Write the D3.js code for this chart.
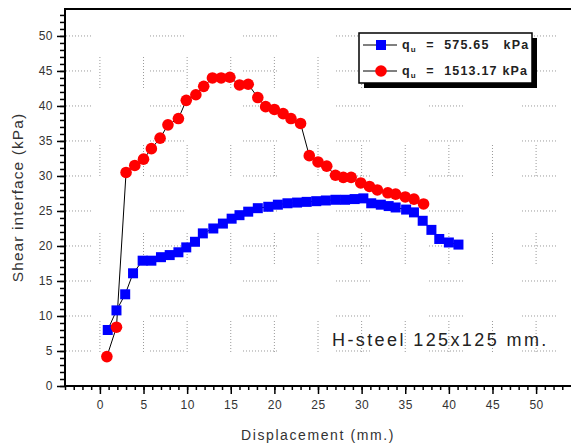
<!DOCTYPE html>
<html lang="en">
<head>
<meta charset="UTF-8">
<title>Shear interface</title>
<script src="https://cdn.jsdelivr.net/npm/d3@7"></script>
<style>
  body { margin: 0; background: #fff; }
  svg { font-family: "Liberation Sans", Arial, sans-serif; }
  .tick text { fill: #333; font-size: 12px; letter-spacing: 0.5px; }
</style>
</head>
<body>
<div id="chart"></div>
<script>
// qu = 575.65 kPa (blue squares)
const blueX = [0.9, 1.9, 2.9, 3.8, 4.9, 5.9, 7.0, 8.0, 9.0, 9.9, 10.9, 11.8, 13.0, 14.1, 15.1, 16.0, 17.0, 18.1, 19.3, 20.4, 21.5, 22.6, 23.7, 24.8, 25.9, 27.0, 28.1, 29.2, 30.2, 31.1, 32.2, 33.1, 33.9, 35.1, 36.0, 37.0, 38.0, 38.9, 40.0, 41.1];
const blueY = [8.0, 10.8, 13.1, 16.1, 17.9, 17.9, 18.4, 18.7, 19.1, 19.8, 20.6, 21.8, 22.5, 23.2, 23.9, 24.4, 24.9, 25.4, 25.6, 25.9, 26.1, 26.2, 26.3, 26.4, 26.5, 26.6, 26.6, 26.7, 26.8, 26.1, 25.9, 25.7, 25.5, 25.2, 24.8, 23.6, 22.3, 21.0, 20.5, 20.2];
// qu = 1513.17 kPa (red circles)
const redX = [0.8, 1.9, 3.0, 4.0, 5.0, 5.9, 6.9, 7.8, 9.0, 9.9, 11.0, 11.9, 12.9, 13.9, 14.9, 16.0, 17.0, 18.1, 19.0, 20.0, 21.0, 21.9, 23.0, 24.0, 25.0, 26.0, 27.0, 27.9, 28.8, 29.9, 30.9, 31.8, 33.0, 33.9, 35.0, 36.0, 37.1];
const redY = [4.2, 8.4, 30.5, 31.5, 32.4, 33.9, 35.4, 37.3, 38.2, 40.8, 41.6, 42.8, 44.0, 44.0, 44.1, 43.0, 43.1, 41.2, 39.9, 39.5, 38.9, 38.2, 37.5, 32.9, 32.0, 31.4, 30.1, 29.8, 29.8, 29.0, 28.5, 28.0, 27.6, 27.4, 27.0, 26.7, 26.0];

const xTicks = [0, 5, 10, 15, 20, 25, 30, 35, 40, 45, 50];
const yTicks = [0, 5, 10, 15, 20, 25, 30, 35, 40, 45, 50];
const legendLabels = [["575.65", "   kPa"], ["1513.17", " kPa"]];
const note = "H-steel 125x125 mm.";

const W = 571, H = 446;
const margin = { top: 9, right: 0, bottom: 60, left: 65 };
const w = W - margin.left - margin.right,
      h = H - margin.top - margin.bottom;

const svg = d3.select('#chart').append('svg')
  .attr('width', W).attr('height', H);
const g = svg.append('g')
  .attr('transform', `translate(${margin.left},${margin.top})`);

const x = d3.scaleLinear().domain([-4, 54]).range([0, w]);
const y = d3.scaleLinear().domain([0, 53.85]).range([h, 0]);

// broken dotted grid
function dots(n, gap) {
  const a = [];
  for (let i = 0; i < n - 1; i++) a.push(1, 2);
  a.push(1, gap);
  return a.join(',');
}
g.selectAll('.hgrid').data(yTicks.filter(d => d > 0)).enter().append('line')
  .attr('x1', 0).attr('x2', w)
  .attr('y1', d => y(d)).attr('y2', d => y(d))
  .attr('stroke', '#9a9a9a').attr('stroke-width', 1)
  .attr('stroke-dasharray', dots(12, 59)).attr('stroke-dashoffset', 8);
g.selectAll('.vgrid').data(xTicks).enter().append('line')
  .attr('x1', d => x(d)).attr('x2', d => x(d))
  .attr('y1', 0).attr('y2', h)
  .attr('stroke', '#9a9a9a').attr('stroke-width', 1)
  .attr('stroke-dasharray', dots(11, 57)).attr('stroke-dashoffset', 40);

// axes
const yMinor = d3.axisLeft(y).tickValues(d3.range(0, 54, 1)).tickSize(5).tickFormat('');
const yMajor = d3.axisLeft(y).tickValues(yTicks).tickSize(8).tickPadding(4);
const xMinor = d3.axisBottom(x).tickValues(d3.range(-4, 54, 1)).tickSize(4).tickFormat('');
const xMajor = d3.axisBottom(x).tickValues(xTicks).tickSize(8).tickPadding(6);

[yMinor, yMajor].forEach(a => {
  const s = g.append('g').call(a);
  s.select('.domain').remove();
  s.selectAll('.tick line').attr('stroke-width', 1.5);
});
[xMinor, xMajor].forEach(a => {
  const s = g.append('g').attr('transform', `translate(0,${h})`).call(a);
  s.select('.domain').remove();
  s.selectAll('.tick line').attr('stroke-width', 1.5);
});
g.append('line').attr('x1', 0).attr('x2', 0).attr('y1', -1).attr('y2', h + 1)
  .attr('stroke', '#000').attr('stroke-width', 2);
g.append('line').attr('x1', 0).attr('x2', w).attr('y1', h).attr('y2', h)
  .attr('stroke', '#000').attr('stroke-width', 2);
g.append('line').attr('x1', 0).attr('x2', w).attr('y1', 0).attr('y2', 0)
  .attr('stroke', '#000').attr('stroke-width', 2);

// titles
svg.append('text')
  .attr('transform', `translate(23,${margin.top + h / 2}) rotate(-90)`)
  .attr('text-anchor', 'middle').attr('fill', '#333').attr('font-size', 15.5)
  .attr('letter-spacing', 1.1)
  .text('Shear interface (kPa)');
svg.append('text')
  .attr('x', 318).attr('y', 440)
  .attr('text-anchor', 'middle').attr('fill', '#333').attr('font-size', 14)
  .attr('letter-spacing', 1.6)
  .text('Displacement (mm.)');

// series
const blue = blueX.map((d, i) => ({ x: d, y: blueY[i] }));
const red = redX.map((d, i) => ({ x: d, y: redY[i] }));
const line = d3.line().x(d => x(d.x)).y(d => y(d.y));

[blue, red].forEach(s => {
  g.append('path').datum(s).attr('d', line)
    .attr('fill', 'none').attr('stroke', '#000').attr('stroke-width', 1);
});
g.selectAll('.sq').data(blue).enter().append('rect')
  .attr('x', d => x(d.x) - 5).attr('y', d => y(d.y) - 5)
  .attr('width', 10).attr('height', 10).attr('fill', '#0000ff');
g.selectAll('.ci').data(red).enter().append('circle')
  .attr('cx', d => x(d.x)).attr('cy', d => y(d.y))
  .attr('r', 5.8).attr('fill', '#ff0000');

// note
svg.append('text')
  .attr('x', 332).attr('y', 346).attr('fill', '#222').attr('font-size', 18)
  .attr('letter-spacing', 2.4)
  .text(note);

// legend
const lg = svg.append('g').attr('transform', 'translate(359,33)');
lg.append('rect').attr('x', 5).attr('y', 5).attr('width', 173).attr('height', 50).attr('fill', '#000');
lg.append('rect').attr('x', 0).attr('y', 0).attr('width', 173).attr('height', 50)
  .attr('fill', '#fff').attr('stroke', '#000').attr('stroke-width', 1.5);
legendLabels.forEach((lab, i) => {
  const ly = 12 + i * 26;
  lg.append('line').attr('x1', 4).attr('x2', 38).attr('y1', ly).attr('y2', ly)
    .attr('stroke', '#000').attr('stroke-width', 1);
  if (i === 0) {
    lg.append('rect').attr('x', 17).attr('y', ly - 5).attr('width', 10).attr('height', 10).attr('fill', '#0000ff');
  } else {
    lg.append('circle').attr('cx', 22).attr('cy', ly).attr('r', 5.8).attr('fill', '#ff0000');
  }
  const t = lg.append('text').attr('x', 43).attr('y', ly + 4)
    .attr('font-size', 12.5).attr('font-weight', 'bold').attr('fill', '#222')
    .attr('letter-spacing', 1.2)
    .style('white-space', 'pre');
  t.append('tspan').text('q');
  t.append('tspan').attr('font-size', 8).attr('dy', 3).text('u');
  t.append('tspan').attr('dy', -3).text('  =  ' + lab[0] + lab[1]);
});
</script>
</body>
</html>
